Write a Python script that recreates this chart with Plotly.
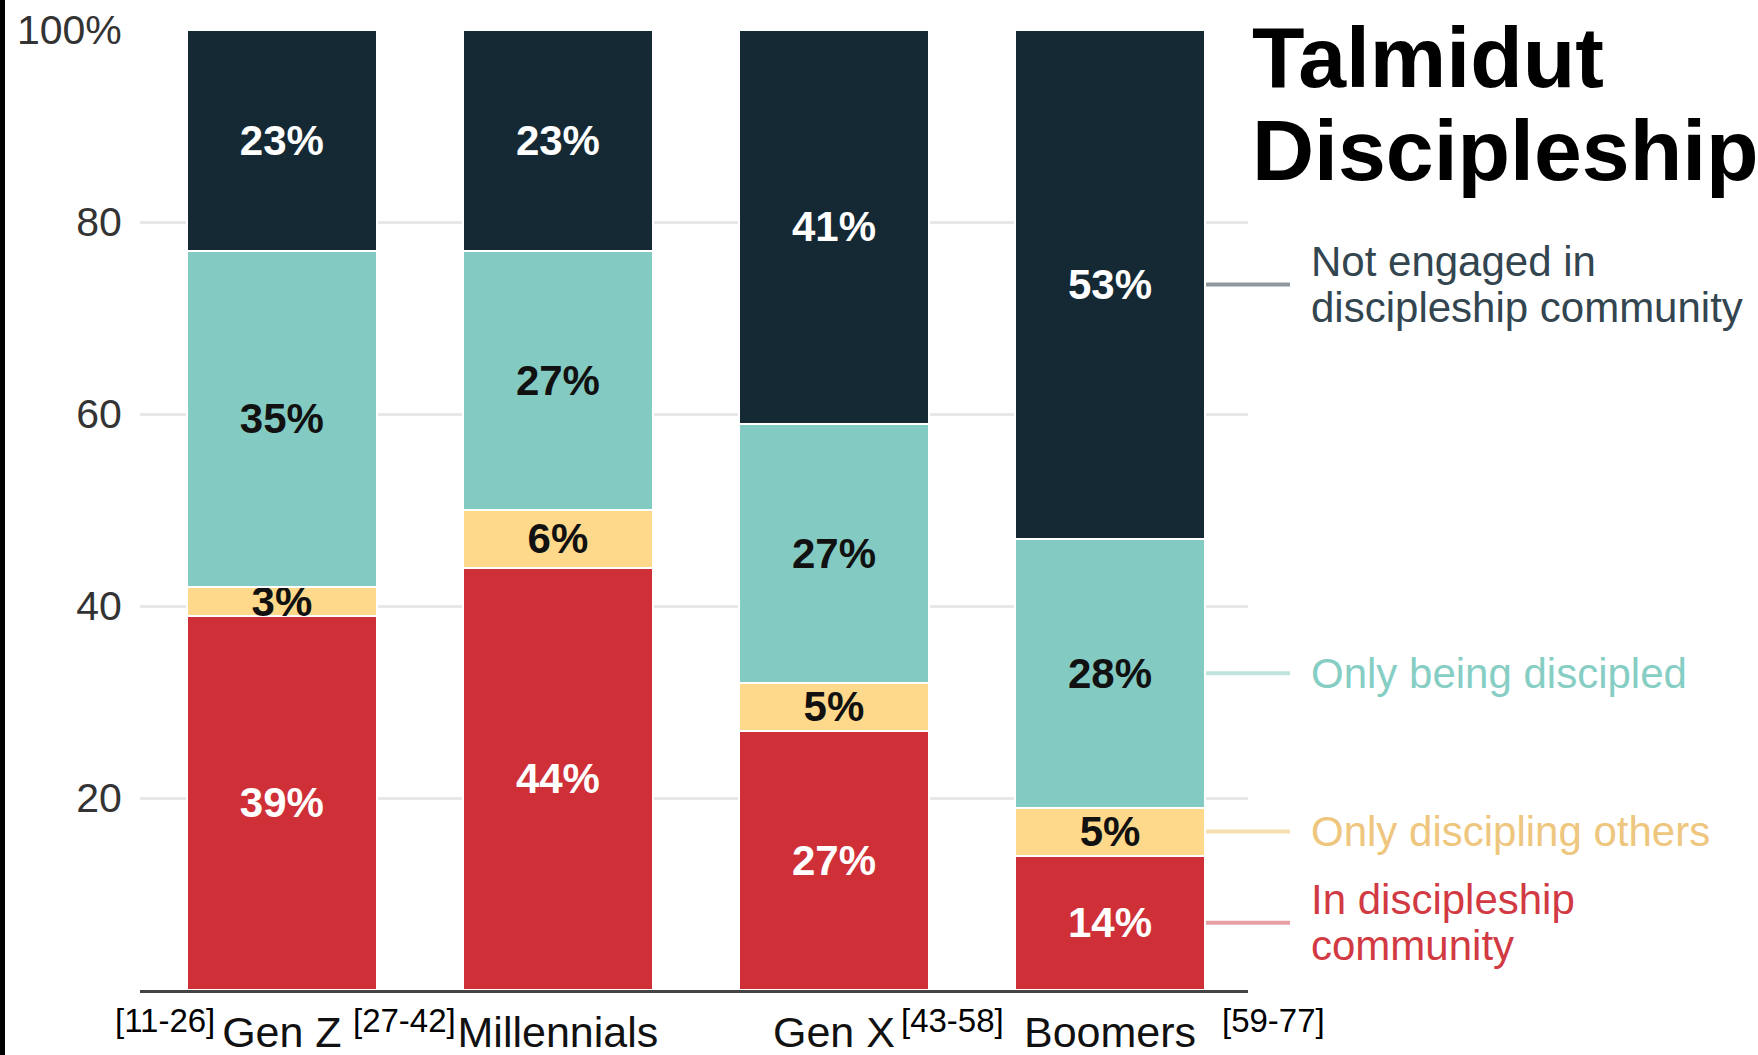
import plotly.graph_objects as go

# ---- data ----
generations = ["Gen Z", "Millennials", "Gen X", "Boomers"]
age_ranges = ["[11-26]", "[27-42]", "[43-58]", "[59-77]"]
in_community = [39, 44, 27, 14]
only_discipling = [3, 6, 5, 5]
only_discipled = [35, 27, 27, 28]
not_engaged = [23, 23, 41, 53]
series_names = [["In discipleship", "community"], ["Only discipling others"],
                ["Only being discipled"], ["Not engaged in", "discipleship community"]]
y_tickvals = [20, 40, 60, 80, 100]
y_ticktext = ["20", "40", "60", "80", "100%"]

# ---- styles ----
W, H = 1758, 1055
L, R, T, B = 140, 1248, 30, 990
bar_colors = ["#CF3038", "#FFD98B", "#83CBC2", "#152935"]
label_colors = ["#FFFFFF", "#111111", "#111111", "#FFFFFF"]
legend_text_colors = ["#D23A43", "#EEC67E", "#86CEC4", "#33454F"]
connector_colors = ["#E8A0A5", "#F6DFAE", "#BFE4DE", "#8D999F"]
FONT = "Liberation Sans, Arial, Helvetica, sans-serif"

series = [in_community, only_discipling, only_discipled, not_engaged]

fig = go.Figure()
for vals, name, col, tcol in zip(series, series_names, bar_colors, label_colors):
    fig.add_trace(go.Bar(
        x=generations, y=vals, name=" ".join(name),
        marker=dict(color=col, line=dict(color="white", width=2)),
        width=0.69,
        text=[f"{v}%" for v in vals],
        textposition="inside", insidetextanchor="middle", textangle=0,
        insidetextfont=dict(color=tcol, size=42, family=FONT, weight="bold"),
        constraintext="none",
        showlegend=False,
    ))

px_w = R - L
px_h = B - T


def px_x(X):
    return (X - L) / px_w


def px_y(Y):
    return (B - Y) / px_h


annotations = []
shapes = []
# legend-like labels, connected to Boomers segments
last = len(generations) - 1
cum = 0
line_gap = 46
for vals, lines, tcol, ccol in zip(series, series_names, legend_text_colors, connector_colors):
    mid = cum + vals[last] / 2
    cum += vals[last]
    shapes.append(dict(type="line", xref="paper", yref="y",
                       x0=px_x(1206), x1=px_x(1290), y0=mid, y1=mid,
                       line=dict(color=ccol, width=4)))
    n = len(lines)
    for i, ln in enumerate(lines):
        annotations.append(dict(
            x=px_x(1310), y=mid, xref="paper", yref="y", showarrow=False,
            yshift=((n - 1) / 2 - i) * line_gap,
            text=ln, align="left", xanchor="left", yanchor="middle",
            borderpad=0, font=dict(size=42, color=tcol, family=FONT),
        ))

# age ranges
range_px = [165, 404, 952, 1274]
for txt, X in zip(age_ranges, range_px):
    annotations.append(dict(
        x=px_x(X), y=px_y(1020), xref="paper", yref="paper", showarrow=False,
        text=txt, xanchor="center", yanchor="middle",
        font=dict(size=33, color="#000000", family=FONT),
    ))

# title
annotations.append(dict(x=px_x(1251), y=px_y(57), xref="paper", yref="paper",
                        showarrow=False, text="Talmidut", xanchor="left", yanchor="middle",
                        borderpad=0,
                        font=dict(size=86, color="#000000", family=FONT, weight="bold")))
annotations.append(dict(x=px_x(1251), y=px_y(150), xref="paper", yref="paper",
                        showarrow=False, text="Discipleship", xanchor="left", yanchor="middle",
                        borderpad=0,
                        font=dict(size=86, color="#000000", family=FONT, weight="bold")))

shapes.append(dict(type="rect", xref="paper", yref="paper",
                   x0=px_x(0), x1=px_x(5), y0=px_y(H), y1=px_y(0),
                   fillcolor="#000000", line=dict(width=0), layer="above"))

fig.update_layout(
    barmode="stack",
    width=W, height=H, autosize=False,
    margin=dict(l=L, r=W - R, t=T, b=H - B, pad=0),
    paper_bgcolor="white", plot_bgcolor="white",
    font=dict(family=FONT, color="#222222"),
    uniformtext=dict(minsize=42, mode="show"),
    bargap=0.31,
    annotations=annotations,
    shapes=shapes,
    xaxis=dict(
        range=[-0.514, 3.5], showgrid=False, zeroline=False, automargin=False,
        showline=True, linecolor="#444444", linewidth=3,
        ticks="outside", ticklen=2, tickcolor="rgba(0,0,0,0)",
        tickfont=dict(size=43, color="#111111", family=FONT),
    ),
    yaxis=dict(
        range=[0, 100], tickvals=y_tickvals, ticktext=y_ticktext, automargin=False,
        showgrid=True, gridcolor="#E8E8E8", gridwidth=3,
        zeroline=False, showline=False,
        ticks="outside", ticklen=9, tickcolor="rgba(0,0,0,0)",
        tickfont=dict(size=41, color="#333333", family=FONT),
    ),
)

fig.write_html(
    "out.html",
    config={"displayModeBar": False},
    post_script="document.body.style.margin='0';document.body.style.overflow='hidden';",
)
